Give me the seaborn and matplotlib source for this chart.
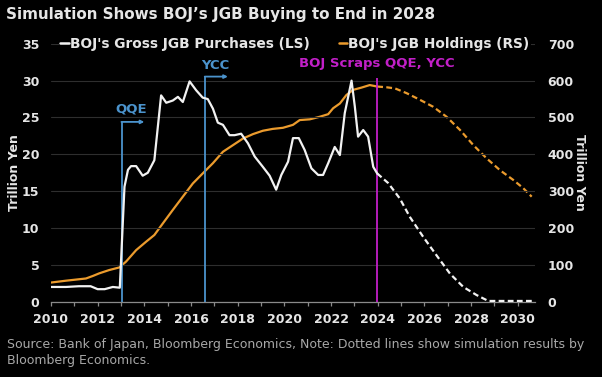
import matplotlib
matplotlib.use("Agg")
import matplotlib.pyplot as plt
from matplotlib.lines import Line2D
import seaborn as sns
import pandas as pd

# ---------------- data ----------------
# BOJ gross JGB purchases, trillion yen (left scale) - actual
purch_years = [2010.0, 2010.64, 2011.2, 2011.7, 2012.0, 2012.3, 2012.65, 2012.95, 2013.15,
               2013.3, 2013.43, 2013.65, 2013.93, 2014.15, 2014.43, 2014.72, 2014.94,
               2015.22, 2015.44, 2015.65, 2015.94, 2016.22, 2016.5, 2016.72, 2016.94,
               2017.15, 2017.37, 2017.65, 2017.87, 2018.15, 2018.44, 2018.73, 2019.08,
               2019.37, 2019.65, 2019.87, 2020.16, 2020.37, 2020.62, 2020.87, 2021.16,
               2021.45, 2021.66, 2021.88, 2022.16, 2022.38, 2022.59, 2022.88, 2023.02,
               2023.16, 2023.38, 2023.59, 2023.81, 2023.98]
purch_vals = [2.0, 2.0, 2.1, 2.1, 1.7, 1.7, 2.0, 1.9, 15.6,
              17.9, 18.4, 18.4, 17.1, 17.5, 19.2, 28.0, 27.0,
              27.3, 27.8, 27.1, 29.9, 28.7, 27.7, 27.5, 26.2,
              24.3, 24.0, 22.6, 22.6, 22.8, 21.5, 19.7, 18.3,
              17.1, 15.2, 17.2, 19.0, 22.2, 22.2, 20.6, 18.1,
              17.2, 17.2, 18.8, 21.0, 19.9, 25.6, 30.0, 26.5,
              22.4, 23.3, 22.4, 18.3, 17.4]
# simulated purchases (dotted)
purch_sim_years = [2023.98, 2024.45, 2024.95, 2025.38, 2025.95, 2026.52, 2027.1,
                   2027.67, 2028.24, 2028.74, 2029.24, 2030.66]
purch_sim_vals = [17.4, 16.1, 14.0, 11.5, 8.8, 6.3, 3.8, 2.0, 0.9, 0.1, 0.1, 0.1]

# BOJ JGB holdings, trillion yen (right scale) - actual
hold_years = [2010.0, 2010.64, 2011.5, 2011.8, 2012.07, 2012.5, 2012.93, 2013.22,
              2013.65, 2014.08, 2014.43, 2014.8, 2015.22, 2015.65, 2016.08, 2016.5,
              2016.94, 2017.37, 2017.8, 2018.23, 2018.66, 2019.08, 2019.5, 2019.94,
              2020.37, 2020.66, 2021.09, 2021.52, 2021.88, 2022.09, 2022.38, 2022.66,
              2022.95, 2023.3, 2023.66, 2023.98]
hold_vals = [52, 57, 63, 70, 77, 86, 93, 109,
             140, 163, 181, 213, 249, 285, 321, 348,
             376, 407, 425, 443, 455, 464, 469, 472,
             480, 493, 495, 502, 509, 525, 538, 561,
             575, 581, 588, 584]
# simulated holdings (dotted)
hold_sim_years = [2023.98, 2024.38, 2024.74, 2025.24, 2025.81, 2026.38, 2026.95,
                  2027.53, 2028.1, 2028.67, 2029.24, 2029.82, 2030.24, 2030.6]
hold_sim_vals = [584, 582, 579, 566, 548, 529, 502, 466, 425, 389, 357, 330, 308, 285]

# policy events
event_labels = ["QQE", "YCC", "BOJ Scraps QQE, YCC"]
event_years = [2013.05, 2016.62, 2023.98]

x_ticks = list(range(2010, 2031))
left_ticks = [0, 5, 10, 15, 20, 25, 30, 35]
right_ticks = [0, 100, 200, 300, 400, 500, 600, 700]

title = "Simulation Shows BOJ\u2019s JGB Buying to End in 2028"
legend_labels = ["BOJ's Gross JGB Purchases (LS)", "BOJ's JGB Holdings (RS)"]
source = ("Source: Bank of Japan, Bloomberg Economics, Note: Dotted lines show simulation results by\n"
          "Bloomberg Economics.")

# ---------------- style ----------------
sns.set_theme(style="dark", rc={
    "figure.facecolor": "black", "axes.facecolor": "black",
    "savefig.facecolor": "black", "text.color": "#e6e6e6",
})
plt.rcParams["font.family"] = ["DejaVu Sans"]

WHITE = "#f2f2f2"
ORANGE = "#eb9b2d"
BLUE = "#4b93cc"
MAGENTA = "#c21fc8"
GRID = "#2e2e2e"
TICKC = "#e6e6e6"

fig = plt.figure(figsize=(6.02, 3.77), dpi=100)
L, R, T, B = 50.5, 535.2, 43.8, 301.7
ax = fig.add_axes([L / 602, 1 - B / 377, (R - L) / 602, (B - T) / 377])
ax2 = ax.twinx()

df_p = pd.DataFrame({"year": purch_years, "v": purch_vals})
df_ps = pd.DataFrame({"year": purch_sim_years, "v": purch_sim_vals})
df_h = pd.DataFrame({"year": hold_years, "v": hold_vals})
df_hs = pd.DataFrame({"year": hold_sim_years, "v": hold_sim_vals})

sns.lineplot(data=df_h, x="year", y="v", ax=ax2, color=ORANGE, lw=1.6)
sns.lineplot(data=df_hs, x="year", y="v", ax=ax2, color=ORANGE, lw=1.6,
             linestyle=(0, (2.6, 1.5)))
sns.lineplot(data=df_p, x="year", y="v", ax=ax, color=WHITE, lw=1.6, zorder=5)
sns.lineplot(data=df_ps, x="year", y="v", ax=ax, color=WHITE, lw=1.6,
             linestyle=(0, (2.6, 1.5)), zorder=5)

# put left axes (white line) on top of right axes
ax.set_zorder(ax2.get_zorder() + 1)
ax.patch.set_visible(False)

ax.set_xlim(2009.98, 2030.75)
ax.set_ylim(0, 35)
ax2.set_ylim(0, 700)

# event lines with labels
ev_tops = [24.4, 30.55, 30.4]
ev_colors = [BLUE, BLUE, MAGENTA]
for yr, top, c in zip(event_years, ev_tops, ev_colors):
    ax.vlines(yr, 0, top, color=c, lw=1.3, zorder=3)
# arrows for QQE and YCC
for yr, top, end in zip(event_years[:2], ev_tops[:2], [2014.0, 2017.58]):
    ax.annotate("", xy=(end, top), xytext=(yr - 0.03, top),
                arrowprops=dict(arrowstyle="-|>", color=BLUE, lw=1.3,
                                mutation_scale=5, shrinkA=0, shrinkB=0), zorder=3)
txt_pos = [(2013.45, 26.2), (2017.03, 32.1), (2023.98, 32.3)]
for lab, (tx, ty), c in zip(event_labels, txt_pos, ev_colors):
    ax.text(tx, ty, lab, color=c, fontsize=9.5, fontweight="bold",
            ha="center", va="center", zorder=6)

# ticks
ax.set_xticks(x_ticks)
ax.set_xticklabels([str(y) if y % 2 == 0 else "" for y in x_ticks])
ax.set_yticks(left_ticks)
ax2.set_yticks(right_ticks)
ax.tick_params(axis="x", colors="#8a8a8a", length=3, width=0.9, pad=5,
               labelcolor=TICKC, labelsize=9, bottom=True)
ax.tick_params(axis="y", length=0, pad=8, labelcolor=TICKC, labelsize=9)
ax2.tick_params(axis="y", length=0, pad=9, labelcolor=TICKC, labelsize=9)
for lab in ax.get_xticklabels() + ax.get_yticklabels() + ax2.get_yticklabels():
    lab.set_fontweight("bold")

ax.grid(axis="y", color=GRID, lw=0.8)
ax.grid(axis="x", visible=False)
ax2.grid(False)
for a in (ax, ax2):
    for s in ("top", "left", "right"):
        a.spines[s].set_visible(False)
    a.spines["bottom"].set_visible(False)
ax.spines["bottom"].set_visible(True)
ax.spines["bottom"].set_color("#8a8a8a")
ax.spines["bottom"].set_linewidth(0.9)

ax.set_xlabel("")
ax.set_ylabel("Trillion Yen", color=TICKC, fontsize=9, fontweight="bold")
ax.yaxis.set_label_coords((21 - L) / (R - L), 0.5)
ax2.set_ylabel("Trillion Yen", color=TICKC, fontsize=9, fontweight="bold",
               rotation=-90, labelpad=9)

# legend
handles = [Line2D([], [], color=WHITE, lw=1.8), Line2D([], [], color=ORANGE, lw=1.8)]
leg = fig.legend(handles, legend_labels, loc="center left",
                 bbox_to_anchor=(59 / 602, 1 - 44 / 377), ncol=2, frameon=True,
                 facecolor="black", edgecolor="none", framealpha=1,
                 borderpad=0.1, borderaxespad=0, handlelength=0.6,
                 handletextpad=0.1, columnspacing=2.1,
                 prop={"weight": "bold", "size": 9.9})
for t in leg.get_texts():
    t.set_color(TICKC)

fig.text(6 / 602, 1 - 14 / 377, title, fontsize=10.9, fontweight="bold",
         color="#e6e6e6", ha="left", va="center")
fig.text(7 / 602, 1 - 352.5 / 377, source, fontsize=9, color="#a8a8a8",
         ha="left", va="center", linespacing=1.25)

fig.savefig("out.png", dpi=100, facecolor="black")
